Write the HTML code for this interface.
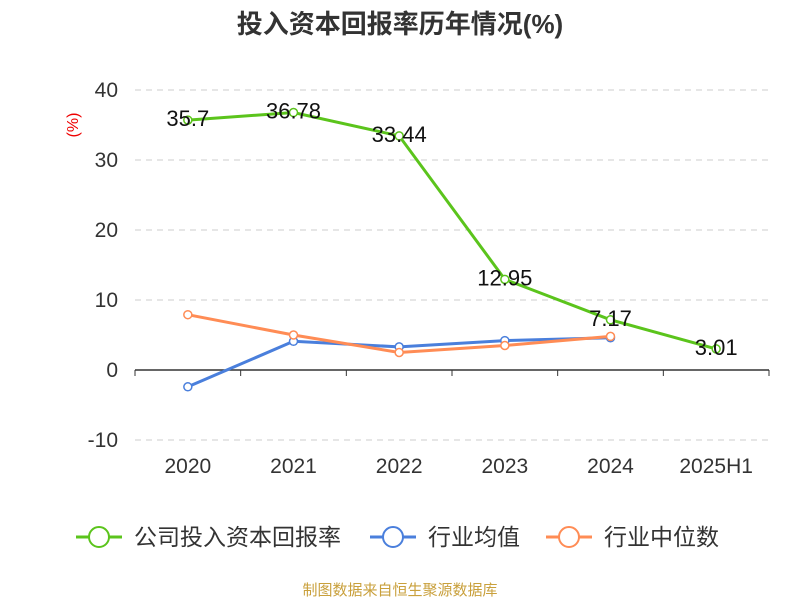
<!DOCTYPE html>
<html><head><meta charset="utf-8"><style>
body{margin:0;background:#fff;}
svg{font-family:"Liberation Sans","Noto Sans CJK SC",sans-serif;}
</style></head><body>
<svg id="c" width="800" height="600">
<text x="400" y="33" text-anchor="middle" font-size="26" font-weight="bold" fill="#333">投入资本回报率历年情况(%)</text>
<text transform="translate(78,125) rotate(-90)" text-anchor="middle" font-size="16" fill="#e00">(%)</text>
<g id="grid"></g><g id="series"></g>
<g>
<g><line x1="76" y1="537" x2="122" y2="537" stroke="#5bc41c" stroke-width="3"/><circle cx="99" cy="537" r="10" fill="#fff" stroke="#5bc41c" stroke-width="2"/><text x="134" y="545" font-size="23" fill="#333">公司投入资本回报率</text></g>
<g><line x1="370" y1="537" x2="416" y2="537" stroke="#4a7fdc" stroke-width="3"/><circle cx="393" cy="537" r="10" fill="#fff" stroke="#4a7fdc" stroke-width="2"/><text x="428" y="545" font-size="23" fill="#333">行业均值</text></g>
<g><line x1="546" y1="537" x2="592" y2="537" stroke="#ff8c55" stroke-width="3"/><circle cx="569" cy="537" r="10" fill="#fff" stroke="#ff8c55" stroke-width="2"/><text x="604" y="545" font-size="23" fill="#333">行业中位数</text></g>
</g>
<text x="400" y="595" text-anchor="middle" font-size="15" fill="#c9a03c">制图数据来自恒生聚源数据库</text>
</svg>
<script>
const categories=["2020","2021","2022","2023","2024","2025H1"];
const roic=[35.7,36.78,33.44,12.95,7.17,3.01];
const industryMean=[-2.4,4.1,3.3,4.2,4.6];
const industryMedian=[7.9,5.0,2.5,3.5,4.8];
const yTicks=[-10,0,10,20,30,40];
const NS="http://www.w3.org/2000/svg";
const x0=135,x1=769,bw=(x1-x0)/categories.length;
const xs=i=>x0+bw*(i+0.5);
const ys=v=>370-v*7;
function mk(t,a,p){const e=document.createElementNS(NS,t);for(const k in a)e.setAttribute(k,a[k]);p.appendChild(e);return e;}
const g=document.getElementById('grid'),s=document.getElementById('series');
yTicks.forEach(v=>{
 if(v!==0){const l=mk('line',{x1:x0,x2:x1,y1:ys(v),y2:ys(v),stroke:'#ccc','stroke-dasharray':'6,5'},g);
 
 }
 const t=mk('text',{x:118,y:ys(v)+7,'text-anchor':'end','font-size':21,fill:'#333'},g);t.textContent=v;
 
 
});
const ax=mk('line',{x1:x0,x2:x1,y1:370,y2:370,stroke:'#333','stroke-width':1.5},g);


for(let i=0;i<=categories.length;i++){mk('line',{x1:x0+bw*i,x2:x0+bw*i,y1:370,y2:376,stroke:'#333'},g);}
categories.forEach((c,i)=>{const t=mk('text',{x:xs(i),y:473,'text-anchor':'middle','font-size':21,fill:'#333'},g);t.textContent=c;
 
 });
function series(d,col,name,labels){
 const p=mk('polyline',{points:d.map((v,i)=>xs(i)+','+ys(v)).join(' '),fill:'none',stroke:col,'stroke-width':3},s);
 
 
 d.forEach((v,i)=>{const c=mk('circle',{cx:xs(i),cy:ys(v),r:4,fill:'#fff',stroke:col,'stroke-width':1.5},s);
  
  
  if(labels){const t=mk('text',{x:xs(i),y:ys(v)+6,'text-anchor':'middle','font-size':22,fill:'#111'},s);t.textContent=v;
  
  }});
}
series(industryMean,'#4a7fdc','industry-mean',false);
series(industryMedian,'#ff8c55','industry-median',false);
series(roic,'#5bc41c','roic',true);
</script>
</body></html>
